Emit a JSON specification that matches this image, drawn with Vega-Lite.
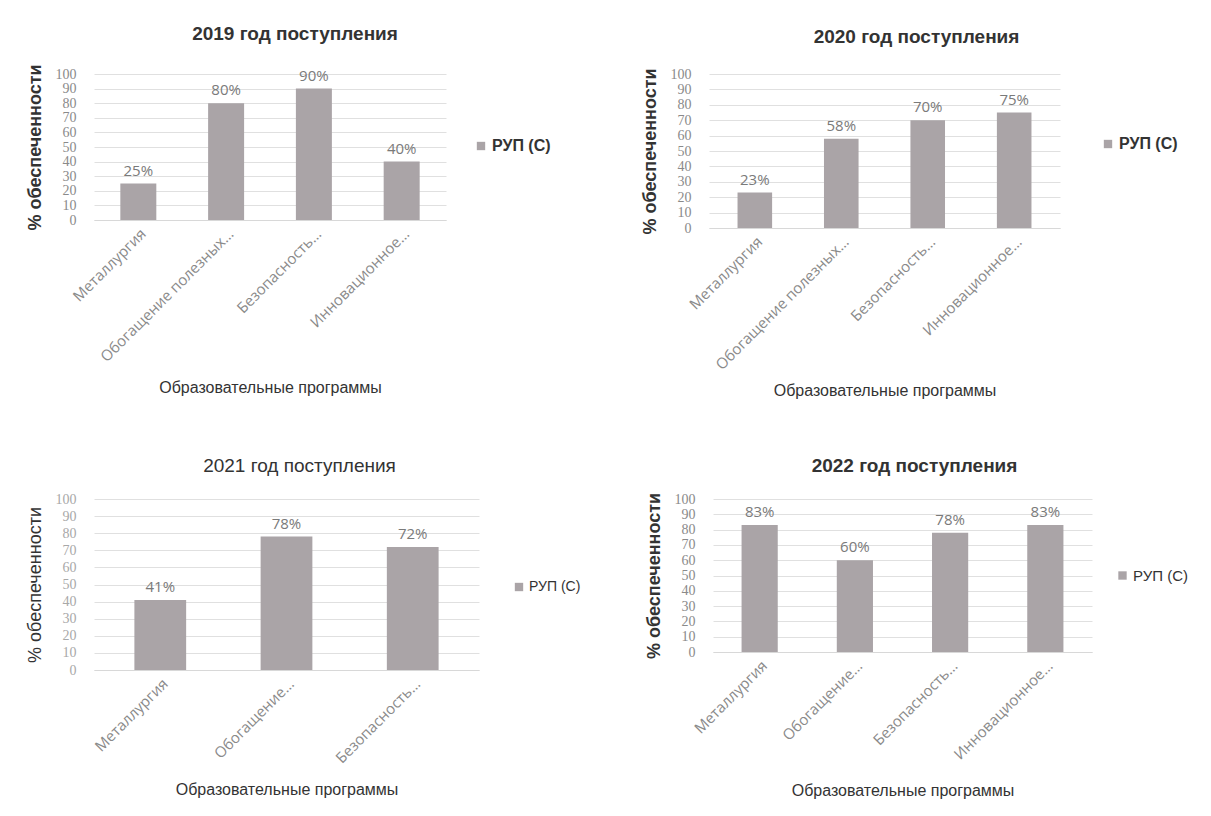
{
  "$schema": "https://vega.github.io/schema/vega-lite/v6.json",
  "background": "white",
  "padding": {"left": 26, "top": 24, "right": 5, "bottom": 5},
  "datasets": {
    "t": [
      {"year": 2019, "program": "Металлургия", "value": 25, "label": "25%", "series": "РУП (С)"},
      {"year": 2019, "program": "Обогащение полезных…", "value": 80, "label": "80%", "series": "РУП (С)"},
      {"year": 2019, "program": "Безопасность…", "value": 90, "label": "90%", "series": "РУП (С)"},
      {"year": 2019, "program": "Инновационное…", "value": 40, "label": "40%", "series": "РУП (С)"},
      {"year": 2020, "program": "Металлургия", "value": 23, "label": "23%", "series": "РУП (С)"},
      {"year": 2020, "program": "Обогащение полезных…", "value": 58, "label": "58%", "series": "РУП (С)"},
      {"year": 2020, "program": "Безопасность…", "value": 70, "label": "70%", "series": "РУП (С)"},
      {"year": 2020, "program": "Инновационное…", "value": 75, "label": "75%", "series": "РУП (С)"},
      {"year": 2021, "program": "Металлургия", "value": 41, "label": "41%", "series": "РУП (С)"},
      {"year": 2021, "program": "Обогащение…", "value": 78, "label": "78%", "series": "РУП (С)"},
      {"year": 2021, "program": "Безопасность…", "value": 72, "label": "72%", "series": "РУП (С)"},
      {"year": 2022, "program": "Металлургия", "value": 83, "label": "83%", "series": "РУП (С)"},
      {"year": 2022, "program": "Обогащение…", "value": 60, "label": "60%", "series": "РУП (С)"},
      {"year": 2022, "program": "Безопасность…", "value": 78, "label": "78%", "series": "РУП (С)"},
      {"year": 2022, "program": "Инновационное…", "value": 83, "label": "83%", "series": "РУП (С)"}
    ]
  },
  "config": {
    "view": {"stroke": null},
    "font": "Liberation Sans",
    "title": {"fontSize": 19, "fontWeight": "bold", "color": "#333333", "font": "Liberation Sans"},
    "axis": {"labelColor": "#8a8a8a", "titleColor": "#333333", "gridColor": "#e0e0e0", "ticks": false},
    "axisX": {"labelAngle": -45, "labelFont": "Open Sans", "labelFontSize": 15, "titleFontSize": 16, "titleFontWeight": "normal", "titlePadding": 10, "domainColor": "#d8d8d8", "labelPadding": 6, "labelLimit": 300},
    "axisY": {"domain": false, "labelFont": "Liberation Serif", "labelFontSize": 14, "titleFontSize": 18, "titleFontWeight": "bold", "titlePadding": 11, "labelPadding": 18},
    "legend": {"orient": "none", "title": null, "symbolType": "square", "symbolSize": 70, "labelFontSize": 16, "labelFontWeight": "bold", "labelColor": "#333333", "symbolStrokeWidth": 0, "labelOffset": 3},
    "bar": {"color": "#aaa4a7"},
    "text": {"color": "#7a7a7a", "fontSize": 15, "font": "Open Sans"}
  },
  "resolve": {"scale": {"color": "independent"}, "legend": {"color": "independent"}},
  "vconcat": [
    {
      "resolve": {"scale": {"color": "independent"}, "legend": {"color": "independent"}},
      "hconcat": [
        {
          "width": 352, "height": 146,
          "title": {"text": "2019 год поступления", "dx": 25, "offset": 20},
          "data": {"name": "t"},
          "transform": [{"filter": "datum.year == 2019"}],
          "encoding": {
            "x": {"field": "program", "type": "nominal", "sort": null, "title": "Образовательные программы", "scale": {"paddingInner": 0.59, "paddingOuter": 0.3}, "axis": {"titlePadding": 15}},
            "y": {"field": "value", "type": "quantitative", "scale": {"domain": [0, 100]}, "title": "% обеспеченности", "axis": {"values": [0, 10, 20, 30, 40, 50, 60, 70, 80, 90, 100]}}
          },
          "layer": [
            {"mark": {"type": "bar"}, "encoding": {"color": {"field": "series", "type": "nominal", "scale": {"range": ["#aaa4a7"]}, "legend": {"legendX": 379, "legendY": 64}}}},
            {"mark": {"type": "text", "dy": -13}, "encoding": {"text": {"field": "label"}}}
          ]
        },
        {
          "width": 351, "height": 154,
          "title": {"text": "2020 год поступления", "dx": 32, "offset": 20},
          "data": {"name": "t"},
          "transform": [{"filter": "datum.year == 2020"}],
          "encoding": {
            "x": {"field": "program", "type": "nominal", "sort": null, "title": "Образовательные программы", "scale": {"paddingInner": 0.6, "paddingOuter": 0.33}},
            "y": {"field": "value", "type": "quantitative", "scale": {"domain": [0, 100]}, "title": "% обеспеченности", "axis": {"values": [0, 10, 20, 30, 40, 50, 60, 70, 80, 90, 100]}}
          },
          "layer": [
            {"mark": {"type": "bar"}, "encoding": {"color": {"field": "series", "type": "nominal", "scale": {"range": ["#aaa4a7"]}, "legend": {"legendX": 391, "legendY": 62}}}},
            {"mark": {"type": "text", "dy": -13}, "encoding": {"text": {"field": "label"}}}
          ]
        }
      ],
      "spacing": 90
    },
    {
      "resolve": {"scale": {"color": "independent"}, "legend": {"color": "independent"}},
      "hconcat": [
        {
          "width": 385, "height": 171,
          "title": {"text": "2021 год поступления", "fontWeight": "normal", "dx": 13, "offset": 16},
          "data": {"name": "t"},
          "transform": [{"filter": "datum.year == 2021"}],
          "encoding": {
            "x": {"field": "program", "type": "nominal", "sort": null, "title": "Образовательные программы", "scale": {"paddingInner": 0.59, "paddingOuter": 0.32}, "axis": {"titlePadding": 16}},
            "y": {"field": "value", "type": "quantitative", "scale": {"domain": [0, 100]}, "title": "% обеспеченности", "axis": {"values": [0, 10, 20, 30, 40, 50, 60, 70, 80, 90, 100], "titleFontWeight": "normal", "labelColor": "#a8a8a8"}}
          },
          "layer": [
            {"mark": {"type": "bar"}, "encoding": {"color": {"field": "series", "type": "nominal", "scale": {"range": ["#aaa4a7"]}, "legend": {"legendX": 418, "legendY": 81, "labelFontWeight": "normal", "labelFontSize": 14}}}},
            {"mark": {"type": "text", "dy": -13}, "encoding": {"text": {"field": "label"}}}
          ]
        },
        {
          "width": 379, "height": 153,
          "title": {"text": "2022 год поступления", "dx": 12, "offset": 16},
          "data": {"name": "t"},
          "transform": [{"filter": "datum.year == 2022"}],
          "encoding": {
            "x": {"field": "program", "type": "nominal", "sort": null, "title": "Образовательные программы", "scale": {"paddingInner": 0.62, "paddingOuter": 0.3}, "axis": {"titlePadding": 20}},
            "y": {"field": "value", "type": "quantitative", "scale": {"domain": [0, 100]}, "title": "% обеспеченности", "axis": {"values": [0, 10, 20, 30, 40, 50, 60, 70, 80, 90, 100]}}
          },
          "layer": [
            {"mark": {"type": "bar"}, "encoding": {"color": {"field": "series", "type": "nominal", "scale": {"range": ["#aaa4a7"]}, "legend": {"legendX": 402, "legendY": 69, "labelFontWeight": "normal", "labelFontSize": 15}}}},
            {"mark": {"type": "text", "dy": -13}, "encoding": {"text": {"field": "label"}}}
          ]
        }
      ],
      "spacing": 64
    }
  ],
  "spacing": 58
}
